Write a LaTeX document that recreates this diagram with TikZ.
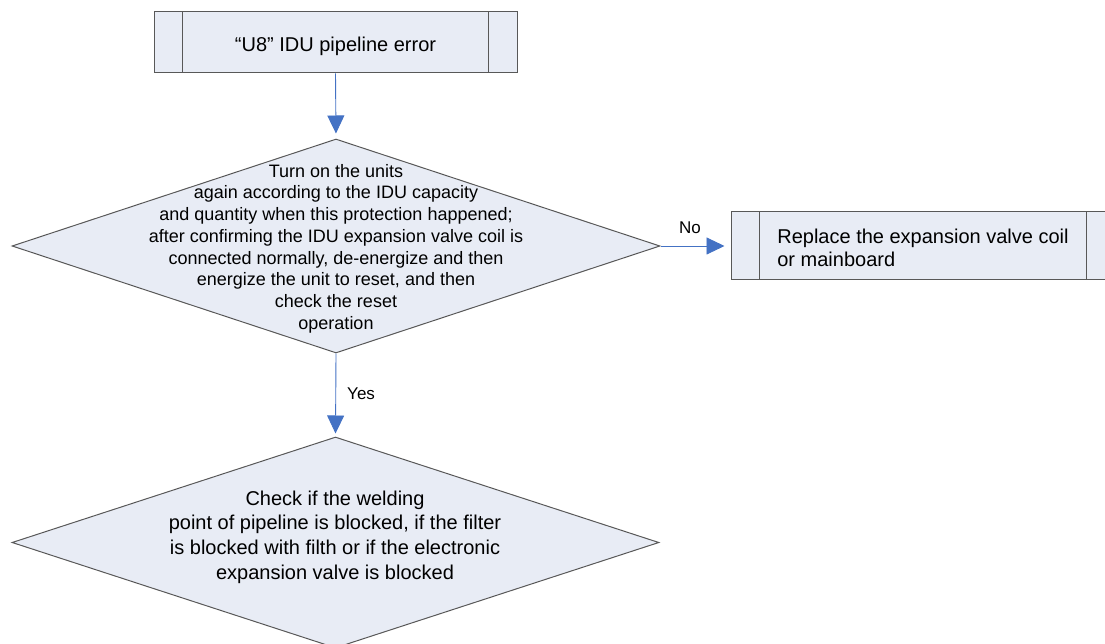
\documentclass[tikz,border=0pt]{standalone}
\usepackage{fontspec}
\setmainfont{Liberation Sans}
\usetikzlibrary{arrows.meta,shapes.geometric}
\definecolor{figfill}{RGB}{232,236,245}
\definecolor{figline}{RGB}{88,88,88}
\definecolor{figarrow}{RGB}{68,114,196}
\tikzset{
  box/.style  ={draw=figline, fill=figfill, line width=1pt, rectangle, inner sep=0pt},
  dia/.style  ={draw=figline, fill=figfill, line width=1pt, diamond, inner sep=0pt},
  side/.style ={draw=figline, line width=1pt},
  txt/.style  ={align=center, inner sep=0pt, font=\fontsize{20}{24.6}\selectfont},
  lab/.style  ={inner sep=0pt, font=\fontsize{17}{20}\selectfont},
  ptr/.style  ={draw=figarrow, line width=0.9pt, -{Triangle[length=18pt,width=17pt]}},
}

\begin{document}
\begin{tikzpicture}[x=1pt,y=-1pt]
  \useasboundingbox (0,0) rectangle (1105,644);
  % error box
  \node[box, minimum width=363pt, minimum height=61pt] (start) at (335.5,42.5) {};
  \node[txt, font=\fontsize{20}{23}\selectfont] (starttxt) at ([yshift=-4pt]start.center) {“U8” IDU pipeline error};
  \draw[side] ([xshift=29pt]start.north west) -- ([xshift=29pt]start.south west);
  \draw[side] ([xshift=-29pt]start.north east) -- ([xshift=-29pt]start.south east);
  % first check
  \node[dia, minimum width=648pt, minimum height=214pt] (check) at (336,246) {};
  \node[txt, font=\fontsize{18}{21.7}\selectfont] (checktxt) at (336,248.5) {Turn on the units\\again according to the IDU capacity\\and quantity when this protection happened;\\after confirming the IDU expansion valve coil is\\connected normally, de-energize and then\\energize the unit to reset, and then\\check the reset\\operation};
  % replace box
  \node[box, minimum width=384pt, minimum height=67pt] (fix) at (923,245.5) {};
  \node[txt, align=left, font=\fontsize{20}{23}\selectfont] (fixtxt) at ([yshift=-2pt]fix.center) {Replace the expansion valve coil\\or mainboard};
  \draw[side] ([xshift=29pt]fix.north west) -- ([xshift=29pt]fix.south west);
  \draw[side] ([xshift=-29pt]fix.north east) -- ([xshift=-29pt]fix.south east);
  % second check
  \node[dia, minimum width=647pt, minimum height=211pt] (block) at (335.5,542.5) {};
  \node[txt] (blocktxt) at (335,537) {Check if the welding\\point of pipeline is blocked, if the filter\\is blocked with filth or if the electronic\\expansion valve is blocked};
  % connectors
  \draw[ptr, shorten >=5pt] (start.south) -- (check.north);
  \draw[ptr, shorten >=6pt] (check.east) -- node[lab, above=12pt, pos=0.42] (no) {No} (check.east -| fix.west);
  \draw[ptr, shorten >=3pt] (check.south) -- node[lab, right=11pt, pos=0.48] (yes) {Yes} (block.north);
\end{tikzpicture}
\end{document}
